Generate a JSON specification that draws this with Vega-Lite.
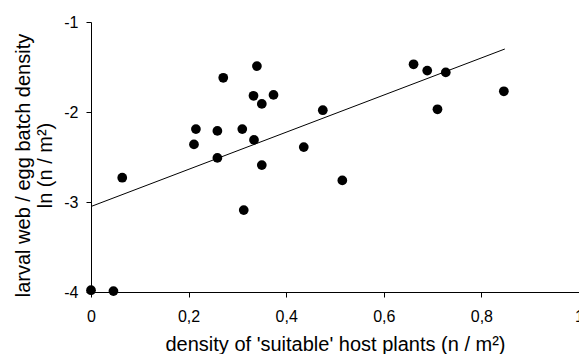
{
  "$schema": "https://vega.github.io/schema/vega-lite/v6.json",
  "width": 488,
  "height": 270,
  "autosize": "none",
  "padding": {"left": 91, "top": 22, "right": 0, "bottom": 62},
  "background": "white",
  "config": {
    "view": {"stroke": null},
    "font": "Liberation Sans",
    "axis": {
      "grid": false,
      "domainColor": "#000",
      "tickColor": "#000",
      "labelColor": "#000",
      "titleColor": "#000",
      "labelFont": "Liberation Sans",
      "titleFont": "Liberation Sans",
      "labelFontSize": 16,
      "titleFontSize": 20,
      "titleFontWeight": "normal",
      "tickSize": 5
    }
  },
  "datasets": {
    "points": [
      {"x": 0.0, "y": -3.98},
      {"x": 0.046, "y": -3.99},
      {"x": 0.064, "y": -2.73},
      {"x": 0.211, "y": -2.36},
      {"x": 0.215, "y": -2.19},
      {"x": 0.259, "y": -2.21},
      {"x": 0.259, "y": -2.51},
      {"x": 0.271, "y": -1.62},
      {"x": 0.310, "y": -2.19},
      {"x": 0.313, "y": -3.09},
      {"x": 0.333, "y": -1.82},
      {"x": 0.334, "y": -2.31},
      {"x": 0.340, "y": -1.49},
      {"x": 0.350, "y": -1.91},
      {"x": 0.350, "y": -2.59},
      {"x": 0.374, "y": -1.81},
      {"x": 0.436, "y": -2.39},
      {"x": 0.475, "y": -1.98},
      {"x": 0.515, "y": -2.76},
      {"x": 0.661, "y": -1.47},
      {"x": 0.689, "y": -1.54},
      {"x": 0.710, "y": -1.97},
      {"x": 0.727, "y": -1.56},
      {"x": 0.846, "y": -1.77}
    ],
    "fit": [
      {"x": 0.0, "y": -3.05},
      {"x": 0.848, "y": -1.30}
    ]
  },
  "layer": [
    {
      "data": {"name": "fit"},
      "mark": {"type": "line", "color": "#000", "strokeWidth": 1},
      "encoding": {
        "x": {"field": "x", "type": "quantitative"},
        "y": {"field": "y", "type": "quantitative"}
      }
    },
    {
      "data": {"name": "points"},
      "mark": {"type": "circle", "color": "#000", "opacity": 1, "size": 95},
      "encoding": {
        "x": {
          "field": "x",
          "type": "quantitative",
          "scale": {"domain": [0, 1], "nice": false, "zero": false},
          "axis": {
            "values": [0, 0.2, 0.4, 0.6, 0.8, 1],
            "labelExpr": "replace(toString(datum.value), '.', ',')",
            "labelPadding": 11,
            "labelFlush": false,
            "labelOverlap": false,
            "title": "density of 'suitable' host plants (n / m²)",
            "titleX": 244,
            "titleY": 58,
            "titleAnchor": null,
            "titleAlign": "center",
            "titleBaseline": "alphabetic"
          }
        },
        "y": {
          "field": "y",
          "type": "quantitative",
          "scale": {"domain": [-4, -1], "nice": false, "zero": false},
          "axis": {
            "values": [-4, -3, -2, -1],
            "labelExpr": "toString(datum.value)",
            "labelPadding": 8,
            "labelFlush": false,
            "labelOverlap": false,
            "title": ["larval web / egg batch density", "ln (n / m²)"],
            "titleX": -62,
            "titleY": 143,
            "titleAngle": -90,
            "titleAlign": "center",
            "titleBaseline": "alphabetic",
            "titleLineHeight": 22
          }
        }
      }
    }
  ]
}
